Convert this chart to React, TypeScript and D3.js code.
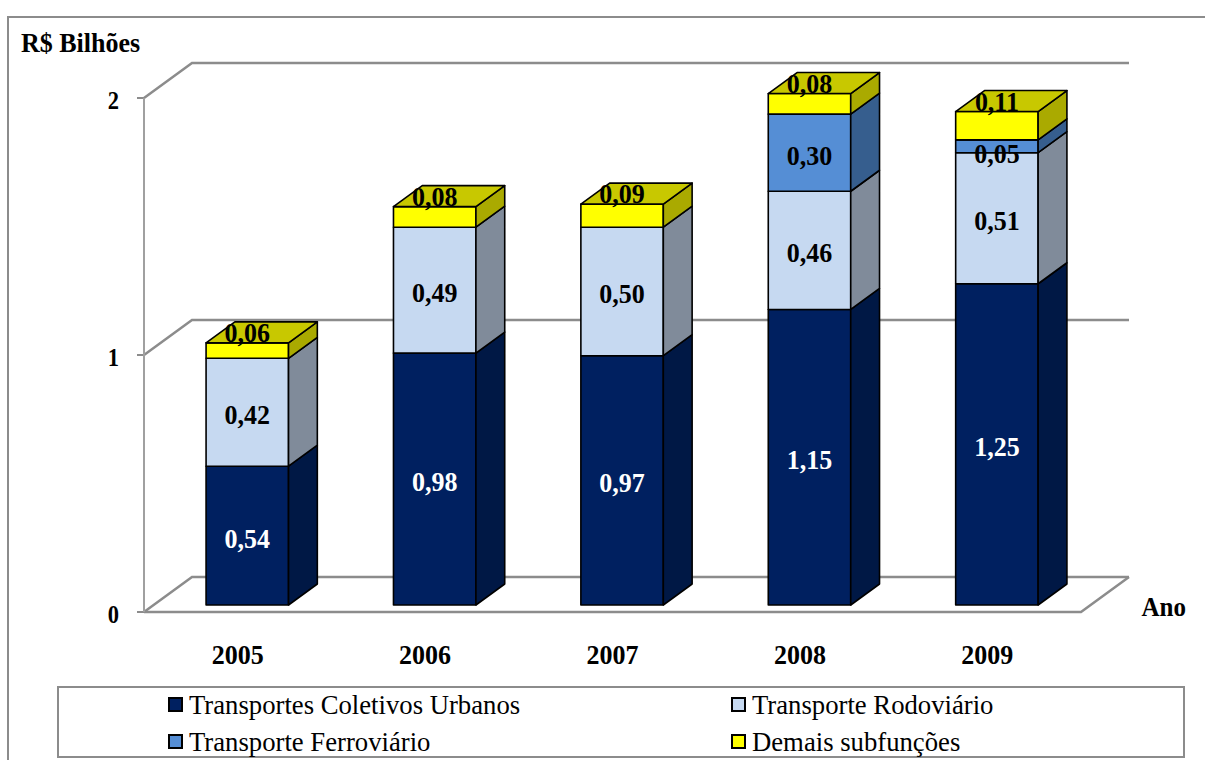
import React from 'react';
import * as d3 from 'd3';

const years = ['2005', '2006', '2007', '2008', '2009'];
const urbanos = [0.54, 0.98, 0.97, 1.15, 1.25];
const rodoviario = [0.42, 0.49, 0.5, 0.46, 0.51];
const ferroviario = [0, 0, 0, 0.3, 0.05];
const demais = [0.06, 0.08, 0.09, 0.08, 0.11];
const seriesNames = ['Transportes Coletivos Urbanos', 'Transporte Rodoviário', 'Transporte Ferroviário', 'Demais subfunções'];
const yTicks = [0, 1, 2];

const frontColors = ['#002060', '#C6D9F1', '#558ED5', '#FFFF00'];
const sideColors = ['#001845', '#808B9A', '#365E8E', '#AAAA00'];
const topColors = ['#001A50', '#A6B8CC', '#4A7CC0', '#C8C800'];
const labelColors = ['#FFFFFF', '#000000', '#000000', '#000000'];

const FONT = '"Liberation Serif", "Times New Roman", serif';

function BoldText(props: { x: number; y: number; size: number; anchor?: string; fill?: string; children: React.ReactNode }) {
  const { x, y, size, anchor = 'start', fill = '#000', children } = props;
  return (
    <text transform={`translate(${x},${y}) scale(1,1.08)`} textAnchor={anchor as any} fontFamily={FONT} fontWeight="bold" fontSize={size} fill={fill}>
      {children}
    </text>
  );
}

export default function App() {
  const X0 = 144, Y0 = 612, W = 937, DX = 48, DY = -35;
  const DF = 0.2, DB = 0.8;
  const x = d3.scaleBand<string>().domain(years).range([0, W]).paddingInner(0.56).paddingOuter(0.28);
  const y = d3.scaleLinear().domain([0, 2]).range([0, 514]);
  const P = (u: number, v: number, d: number): [number, number] => [X0 + u + d * DX, Y0 - y(v) + d * DY];
  const poly = (pts: [number, number][]) => pts.map(p => p.join(',')).join(' ');

  const table = years.map((yr, i) => ({ year: yr, s0: urbanos[i], s1: rodoviario[i], s2: ferroviario[i], s3: demais[i] }));
  const keys = ['s0', 's1', 's2', 's3'];
  const stacked = d3.stack<any>().keys(keys)(table);
  const fmt = (v: number) => d3.format('.2f')(v).replace('.', ',');

  const bars: React.ReactNode[] = [];
  const labels: React.ReactNode[] = [];
  years.forEach((yr, i) => {
    const u0 = x(yr)!;
    const u1 = u0 + x.bandwidth();
    let topIdx = -1;
    stacked.forEach((s, k) => { if (s[i][1] - s[i][0] > 0) topIdx = k; });
    stacked.forEach((s, k) => {
      const v0 = s[i][0], v1 = s[i][1];
      if (v1 - v0 <= 0) return;
      bars.push(
        <g key={`b${i}-${k}`} stroke="#000" strokeWidth={1.6} strokeLinejoin="round">
          <polygon points={poly([P(u0, v0, DF), P(u1, v0, DF), P(u1, v1, DF), P(u0, v1, DF)])} fill={frontColors[k]} />
          <polygon points={poly([P(u1, v0, DF), P(u1, v0, DB), P(u1, v1, DB), P(u1, v1, DF)])} fill={sideColors[k]} />
          {k === topIdx && (
            <polygon points={poly([P(u0, v1, DF), P(u1, v1, DF), P(u1, v1, DB), P(u0, v1, DB)])} fill={topColors[k]} />
          )}
        </g>
      );
      const cx = (P(u0, v0, DF)[0] + P(u1, v0, DF)[0]) / 2;
      const yb = P(u0, v0, DF)[1];
      const yt = P(u0, v1, DF)[1];
      const h = yb - yt;
      let base: number;
      if (h < 30) base = k === topIdx ? yt - 1 : yb + 10;
      else base = (yb + yt) / 2 + 12;
      labels.push(
        <BoldText key={`l${i}-${k}`} x={cx} y={base} size={26} anchor="middle" fill={labelColors[k]}>
          {fmt(v1 - v0)}
        </BoldText>
      );
    });
  });

  const gridColor = '#8C8C8C';
  const [fl0, fl1] = [P(0, 0, 0), P(W, 0, 0)];
  const bl1 = P(W, 0, 1);

  const legendPos = [
    { x: 169, y: 705 },
    { x: 732, y: 705 },
    { x: 169, y: 742 },
    { x: 732, y: 742 },
  ];

  return (
    <svg width={1205} height={760} style={{ position: 'absolute', left: 0, top: 0, background: '#fff' }}>
      <rect x={8} y={17} width={1300} height={800} fill="#fff" stroke="#8C8C8C" strokeWidth={2} />
      <BoldText x={21} y={52} size={26}>R$ Bilhões</BoldText>

      {yTicks.map(t => {
        const a = P(0, t, 0), b = P(0, t, 1), c = P(W, t, 1);
        return (
          <g key={`g${t}`} stroke={gridColor} strokeWidth={2.5} fill="none">
            <polyline points={poly([a, b, c])} />
            <line x1={a[0] - 7} y1={a[1]} x2={a[0]} y2={a[1]} strokeWidth={2} />
          </g>
        );
      })}
      <polyline points={poly([bl1, fl1, fl0])} stroke={gridColor} strokeWidth={2.5} fill="none" />
      <line x1={X0} y1={P(0, 2, 0)[1]} x2={X0} y2={Y0} stroke="#A0A0A0" strokeWidth={2} />

      {yTicks.map(t => (
        <BoldText key={`t${t}`} x={119} y={P(0, t, 0)[1] + 11} size={22.5} anchor="end">{t}</BoldText>
      ))}

      {bars}
      {labels}

      {years.map(yr => (
        <BoldText key={`x${yr}`} x={X0 + x(yr)! + x.bandwidth() / 2} y={664} size={26} anchor="middle">{yr}</BoldText>
      ))}
      <BoldText x={1186} y={616} size={25} anchor="end">Ano</BoldText>

      <rect x={58} y={687} width={1126} height={70} fill="#fff" stroke="#8C8C8C" strokeWidth={2} />
      {seriesNames.map((name, k) => (
        <g key={`lg${k}`}>
          <rect x={legendPos[k].x} y={legendPos[k].y - 7} width={13} height={13} fill={frontColors[k]} stroke="#000" strokeWidth={2} />
          <text x={legendPos[k].x + 20} y={legendPos[k].y + 9} fontFamily={FONT} fontSize={26.7}>{name}</text>
        </g>
      ))}
    </svg>
  );
}
